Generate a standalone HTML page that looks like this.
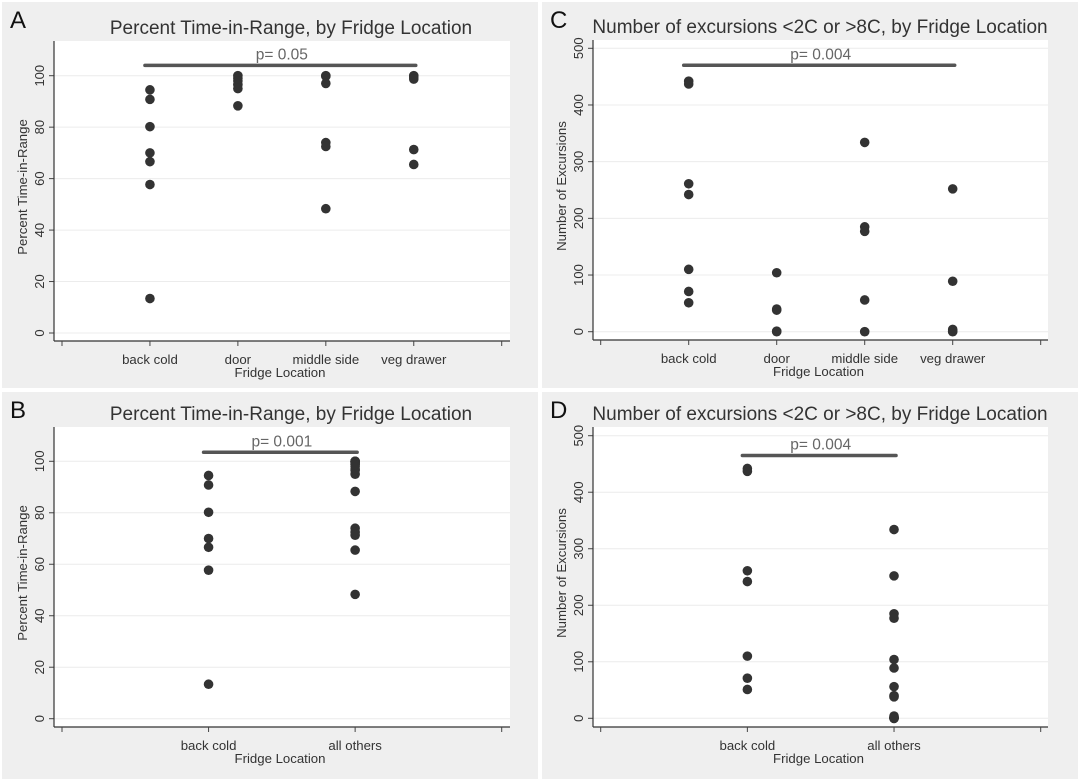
<!DOCTYPE html>
<html><head><meta charset="utf-8">
<style>
html,body{margin:0;padding:0;background:#fff;}
svg{display:block;font-family:"Liberation Sans",Arial,sans-serif;}
</style></head>
<body>
<svg id="fig" width="1080" height="781" viewBox="0 0 1080 781" xmlns="http://www.w3.org/2000/svg"></svg>
<script>
// Panel A data (percent time in range, 4 locations)
const catsA = ["back cold","door","middle side","veg drawer"];
const valsA = [
  [94.5, 90.8, 80.2, 70, 66.6, 57.7, 13.4],
  [100, 99, 98, 96.5, 95, 88.3],
  [100, 99.8, 97, 74, 72.5, 48.3],
  [100, 99.5, 98.7, 71.3, 65.5]
];
const ticksPct = [0, 20, 40, 60, 80, 100];
// Panel B data
const catsB = ["back cold","all others"];
const valsB = [
  [94.5, 90.8, 80.2, 70, 66.6, 57.7, 13.4],
  [100, 99, 98, 96.5, 95, 88.3, 100, 99.8, 97, 74, 72.5, 48.3, 100, 99.5, 98.7, 71.3, 65.5]
];
// Panel C data (excursions)
const catsC = ["back cold","door","middle side","veg drawer"];
const valsC = [
  [442, 437, 261, 242, 110, 71, 51],
  [104, 40, 38, 1, 0],
  [334, 185, 177, 56, 0],
  [252, 89, 4, 1, 0]
];
const ticksExc = [0, 100, 200, 300, 400, 500];
// Panel D data
const catsD = ["back cold","all others"];
const valsD = [
  [442, 437, 261, 242, 110, 71, 51],
  [104, 40, 38, 1, 0, 334, 185, 177, 56, 0, 252, 89, 4, 1, 0]
];
const pA = ["p= 0.05", 104];
const pB = ["p= 0.001", 103.5];
const pC = ["p= 0.004", 470];
const pD = ["p= 0.004", 465];

const NS = "http://www.w3.org/2000/svg";
const svg = document.getElementById("fig");
function mk(tag, attrs, parent, text){
  const e = document.createElementNS(NS, tag);
  for (const k in attrs) e.setAttribute(k, attrs[k]);
  if (text !== undefined) e.textContent = text;
  (parent || svg).appendChild(e);
  return e;
}

function panel(cfg){
  const g = mk("g", {});
  
  
  const bg = mk("rect", {x:cfg.bx, y:cfg.by, width:cfg.bw, height:cfg.bh, fill:"#efefef"}, g);
  
  
  const L = cfg.left, R = cfg.right, T = cfg.top, B = cfg.bottom;
  const pr = mk("rect", {x:L, y:T, width:R-L, height:B-T, fill:"#fff"}, g);
  
  
  const yS = v => cfg.y0 + (v - cfg.ymin) * (cfg.y1 - cfg.y0) / (cfg.ymax - cfg.ymin);
  const n = cfg.cats.length;
  const xS = i => cfg.xa + i * (cfg.xb - cfg.xa) / (n + 1);
  cfg.ticks.forEach(t => {
    const y = yS(t);
    const gl = mk("line", {x1:L, x2:R, y1:y, y2:y, stroke:"#ececec", "stroke-width":1}, g);
    
    
    mk("line", {x1:L-5, x2:L, y1:y, y2:y, stroke:"#444", "stroke-width":1}, g);
    const tl = mk("text", {x:0, y:0, transform:`translate(${L-10},${y}) rotate(-90)`, "text-anchor":"middle", "font-size":13, fill:"#333"}, g, String(t));
    
    
  });
  const ya = mk("line", {x1:L, x2:L, y1:T, y2:B, stroke:"#333", "stroke-width":1.2}, g);
  
  
  const xa = mk("line", {x1:L, x2:R, y1:B, y2:B, stroke:"#333", "stroke-width":1.2}, g);
  
  
  for (let i = 0; i <= n + 1; i++) {
    mk("line", {x1:xS(i), x2:xS(i), y1:B, y2:B+5, stroke:"#444", "stroke-width":1}, g);
  }
  cfg.cats.forEach((c, i) => {
    const xl = mk("text", {x:xS(i+1), y:B+23, "text-anchor":"middle", "font-size":13.2, fill:"#333"}, g, c);
    
    
  });
  const xt = mk("text", {x:(L+R)/2 - 2, y:B+36, "text-anchor":"middle", "font-size":13.2, fill:"#333"}, g, "Fridge Location");
  
  
  const ytl = mk("text", {x:0, y:0, transform:`translate(${L-27},${(T+B)/2 - 4}) rotate(-90)`, "text-anchor":"middle", "font-size":13.2, fill:"#333"}, g, cfg.ylabel);
  
  
  const tt = mk("text", {x:cfg.tx, y:cfg.ty, "text-anchor":"middle", "font-size":19, fill:"#333"}, g, cfg.title);
  
  
  const lt = mk("text", {x:cfg.bx+8, y:cfg.by+26, "font-size":24, fill:"#111"}, g, cfg.letter);
  
  
  const py = yS(cfg.p[1]);
  const pb = mk("line", {x1:xS(1)-5, x2:xS(n)+2, y1:py, y2:py, stroke:"#555", "stroke-width":3.5, "stroke-linecap":"round"}, g);
  
  
  const pt = mk("text", {x:(xS(1)+xS(n))/2, y:py-6, "text-anchor":"middle", "font-size":15.5, fill:"#666"}, g, cfg.p[0]);
  
  
  cfg.vals.forEach((arr, i) => {
    arr.forEach(v => {
      const c = mk("circle", {cx:xS(i+1), cy:yS(v), r:4.8, fill:"#333"}, g);
      
      
    });
  });
}

panel({name:"panel-a", letter:"A", bx:2, by:2, bw:536, bh:386, left:54, right:510, top:41, bottom:341,
  y0:333, y1:75.7, ymin:0, ymax:100, xa:62, xb:501.7, cats:catsA, vals:valsA, ticks:ticksPct,
  title:"Percent Time-in-Range, by Fridge Location", tx:291, ty:34, ylabel:"Percent Time-in-Range", p:pA});
panel({name:"panel-b", letter:"B", bx:2, by:392, bw:536, bh:387, left:54, right:510, top:427, bottom:727,
  y0:718.7, y1:461.3, ymin:0, ymax:100, xa:62, xb:501.7, cats:catsB, vals:valsB, ticks:ticksPct,
  title:"Percent Time-in-Range, by Fridge Location", tx:291, ty:420, ylabel:"Percent Time-in-Range", p:pB});
panel({name:"panel-c", letter:"C", bx:542, by:2, bw:536, bh:386, left:593, right:1048, top:40, bottom:340,
  y0:331.7, y1:48.3, ymin:0, ymax:500, xa:600.7, xb:1040.7, cats:catsC, vals:valsC, ticks:ticksExc,
  title:"Number of excursions <2C or >8C, by Fridge Location", tx:820, ty:33, ylabel:"Number of Excursions", p:pC});
panel({name:"panel-d", letter:"D", bx:542, by:392, bw:536, bh:387, left:593, right:1048, top:427, bottom:727,
  y0:718.3, y1:435.7, ymin:0, ymax:500, xa:600.7, xb:1040.7, cats:catsD, vals:valsD, ticks:ticksExc,
  title:"Number of excursions <2C or >8C, by Fridge Location", tx:820, ty:420, ylabel:"Number of Excursions", p:pD});
</script>
</body></html>
